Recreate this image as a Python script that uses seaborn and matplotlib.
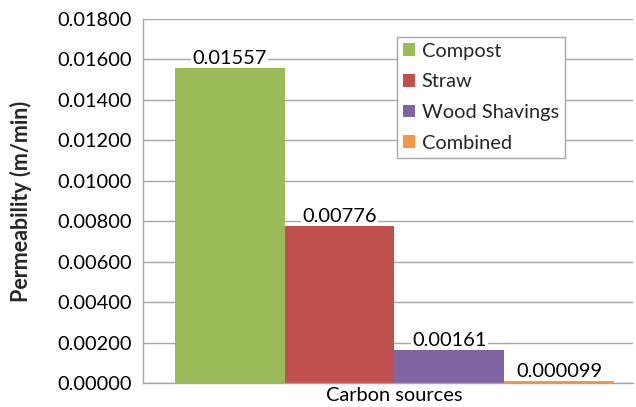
import matplotlib
matplotlib.use("Agg")
import matplotlib.pyplot as plt
import seaborn as sns
import pandas as pd

group = ["Carbon sources"] * 4
sources = ["Compost", "Straw", "Wood Shavings", "Combined"]
values = [0.01557, 0.00776, 0.00161, 0.000099]
value_labels = ["0.01557", "0.00776", "0.00161", "0.000099"]
colors = ["#9BBB59", "#C0504D", "#8064A2", "#F79646"]
yticks = [0.000, 0.002, 0.004, 0.006, 0.008, 0.010, 0.012, 0.014, 0.016, 0.018]

sns.set_theme(style="white")
plt.rcParams["font.family"] = ["Lato", "DejaVu Sans"]

df = pd.DataFrame({"group": group, "source": sources, "value": values})

fig = plt.figure(figsize=(6.36, 4.07), dpi=100)
ax = fig.add_axes([143 / 636, 1 - 383 / 407, 490 / 636, 364 / 407])

sns.barplot(data=df, x="group", y="value", hue="source", hue_order=sources,
            palette=colors, width=0.896, gap=0, saturation=1, ax=ax,
            edgecolor="none", linewidth=0, legend=True, zorder=2)

FS = 14.4
ax.set_xlim(-0.513, 0.487)
ax.set_ylim(0, 0.018)
ax.set_yticks(yticks)
ax.set_yticklabels([f"{v:.5f}" for v in yticks])
ax.yaxis.grid(True, color="#A6A6A6", linewidth=1, zorder=0)
ax.set_axisbelow(True)
for s in ["top", "right"]:
    ax.spines[s].set_visible(False)
for s in ["left", "bottom"]:
    ax.spines[s].set_color("#A6A6A6")
    ax.spines[s].set_linewidth(1)
ax.tick_params(axis="y", labelsize=FS, length=0, pad=8, colors="black")
ax.tick_params(axis="x", labelsize=FS, length=0, pad=3, colors="black")
ax.set_xlabel("")
ax.set_ylabel("Permeability (m/min)", fontsize=15.5, fontweight="bold")
ax.yaxis.set_label_coords(-0.226, 0.5)

for cont, lab in zip(ax.containers, value_labels):
    txts = ax.bar_label(cont, labels=[lab], padding=1, fontsize=FS, color="black")
    for t in txts:
        t.set_bbox(dict(facecolor="white", edgecolor="none", pad=1))

handles, labels = ax.get_legend_handles_labels()
leg = ax.legend(handles, labels, loc="upper left", bbox_to_anchor=(0.518, 0.951),
                borderaxespad=0, fontsize=FS, frameon=True, fancybox=False,
                edgecolor="#A6A6A6", framealpha=1, handlelength=0.6,
                handleheight=0.6, handletextpad=0.35, labelspacing=0.68,
                borderpad=0.3)
leg.get_frame().set_linewidth(1)

fig.savefig("out.png", dpi=100)
